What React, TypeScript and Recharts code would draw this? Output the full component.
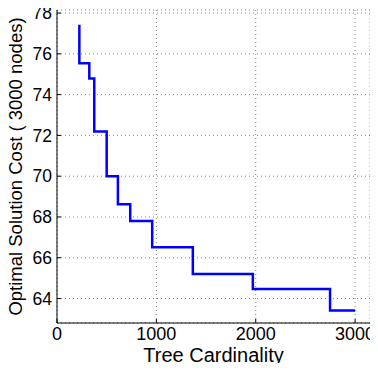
import { CartesianGrid, Line, LineChart, XAxis, YAxis, Label } from "recharts";

const cardinality = [225, 225, 325, 375, 500, 613, 737, 958, 1367, 1971, 2748, 3000];
const cost = [77.43, 75.54, 74.79, 72.19, 70.0, 68.62, 67.8, 66.52, 65.2, 64.47, 63.41, 63.41];
const xTicks = [0, 1000, 2000, 3000];
const yTicks = [64, 66, 68, 70, 72, 74, 76, 78];

const data = cardinality.map((x, i) => ({ x, cost: cost[i] }));

const font = "'Liberation Sans', Arial, sans-serif";

export default function App() {
  return (
    <div style={{ margin: -8, fontFamily: font }}>
      <LineChart
        width={378}
        height={371}
        data={data}
        margin={{ top: 10, right: 8, bottom: 0, left: 0 }}
      >
        <CartesianGrid
          stroke="#888"
          strokeDasharray="1 3"
          xAxisId="main"
          yAxisId="main"
        />
        <XAxis
          xAxisId="main"
          dataKey="x"
          type="number"
          domain={[0, 3150]}
          ticks={xTicks}
          allowDataOverflow
          height={48}
          stroke="#000"
          tickSize={-4}
          tickMargin={8}
          tick={{ fill: "#000", fontSize: 18, fontFamily: font }}
        >
          <Label
            value="Tree Cardinality"
            position="insideBottom"
            offset={9}
            style={{ fill: "#000", fontSize: 20, fontFamily: font }}
          />
        </XAxis>
        <XAxis
          xAxisId="top"
          orientation="top"
          dataKey="x"
          type="number"
          domain={[0, 3150]}
          ticks={xTicks}
          height={0}
          stroke="#000"
          tickSize={-4}
          tick={false}
        />
        <YAxis
          yAxisId="main"
          type="number"
          domain={[62.8, 78.15]}
          ticks={yTicks}
          allowDataOverflow
          width={57}
          stroke="#000"
          tickSize={-4}
          tickMargin={9}
          tick={{ fill: "#000", fontSize: 17.5, fontFamily: font }}
        >
          <Label
            value="Optimal Solution Cost ( 3000 nodes)"
            angle={-90}
            position="insideLeft"
            offset={15}
            style={{ fill: "#000", fontSize: 18.5, fontFamily: font, textAnchor: "middle" }}
          />
        </YAxis>
        <YAxis
          yAxisId="right"
          orientation="right"
          type="number"
          domain={[62.8, 78.15]}
          ticks={yTicks}
          width={0}
          stroke="#000"
          tickSize={-4}
          tick={false}
        />
        <Line
          xAxisId="main"
          yAxisId="main"
          type="stepAfter"
          dataKey="cost"
          stroke="#0000ff"
          strokeWidth={2.5}
          dot={false}
          isAnimationActive={false}
        />
      </LineChart>
    </div>
  );
}
